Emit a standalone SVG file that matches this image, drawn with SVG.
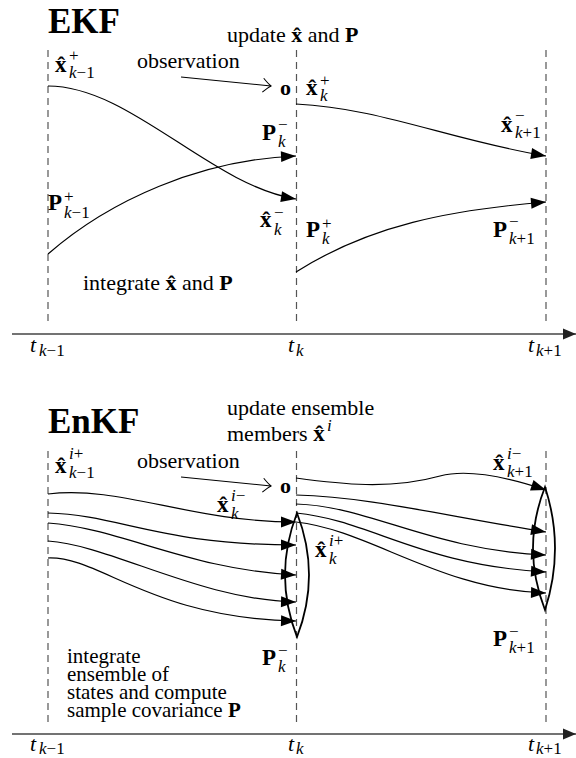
<svg xmlns="http://www.w3.org/2000/svg" width="576" height="758" viewBox="0 0 576 758">
<defs>
<style>
text{font-family:"Liberation Serif","Times New Roman",serif;font-size:22px;fill:#000}
.b{font-weight:bold}
.m{font-weight:bold;font-size:23px}
.i{font-style:italic}
.s{font-size:17px;font-weight:normal}
.sm{font-size:21px}
.title{font-size:35px;font-weight:bold}
.dash{stroke:#555;stroke-width:1.2;stroke-dasharray:7 5;fill:none}
.axis{stroke:#444;stroke-width:1.5;fill:none;marker-end:url(#axah)}
.curve{fill:none;stroke:#000;stroke-width:1.2;marker-end:url(#ah)}
.obs{fill:none;stroke:#000;stroke-width:1.1;marker-end:url(#open)}
.lens{fill:none;stroke:#000;stroke-width:1.8}
</style>
<marker id="ah" markerUnits="userSpaceOnUse" viewBox="-16 -7 17 14" refX="0" refY="0" markerWidth="17" markerHeight="14" orient="auto"><path d="M0,0 L-15,-5.5 L-15,5.5 Z" fill="#000"/></marker>
<marker id="axah" markerUnits="userSpaceOnUse" viewBox="-14 -7 15 14" refX="0" refY="0" markerWidth="15" markerHeight="14" orient="auto"><path d="M0,0 L-13,-5.5 L-13,5.5 Z" fill="#222"/></marker>
<marker id="open" markerUnits="userSpaceOnUse" viewBox="-10 -9 12 18" refX="0" refY="0" markerWidth="12" markerHeight="18" orient="auto"><path d="M-8,-7 Q-3,-2 0,0 Q-3,2 -8,7" fill="none" stroke="#000" stroke-width="1.1"/></marker>
</defs>

<g id="ekf-frame">
<line class="dash" x1="48" y1="50" x2="48" y2="326"/>
<line class="dash" x1="296.5" y1="50" x2="296.5" y2="326"/>
<line class="dash" x1="546" y1="50" x2="546" y2="326"/>
<line class="axis" x1="12" y1="334" x2="576" y2="334"/>
</g>
<g id="enkf-frame">
<line class="dash" x1="48" y1="451" x2="48" y2="727"/>
<line class="dash" x1="296.5" y1="451" x2="296.5" y2="727"/>
<line class="dash" x1="546" y1="451" x2="546" y2="727"/>
<line class="axis" x1="12" y1="734" x2="576" y2="734"/>
</g>

<g id="connectors">
<path class="obs" d="M181,77 L271,86"/>
<path class="curve" d="M48,86 C130,86 210,185 296,199"/>
<path class="curve" d="M48,254 C110,200 200,160 296,156"/>
<path class="curve" d="M296,104 C380,108 450,140 546,156"/>
<path class="curve" d="M296,272 C370,225 450,210 546,202"/>

<path class="obs" d="M181,477 L271,486"/>
<path class="curve" d="M48,494 C120,485 190,522 296,522"/>
<path class="curve" d="M48,513 C120,515 160,545 296,545"/>
<path class="curve" d="M48,523 C120,528 190,570 296,575"/>
<path class="curve" d="M48,541 C110,545 200,600 296,602"/>
<path class="curve" d="M48,558 C100,556 150,618 296,621"/>

<path class="curve" d="M296,478 C340,484 390,490 440,476 C470,468 510,478 546,490"/>
<path class="curve" d="M296,495 C370,497 440,515 546,532"/>
<path class="curve" d="M296,504 C370,506 430,550 546,555"/>
<path class="curve" d="M296,513 C370,520 420,565 546,572"/>
<path class="curve" d="M296,522 C370,530 440,590 546,593"/>

<path class="lens" d="M297,513 Q273,575 297,637 Q321,575 297,513 Z"/>
<path class="lens" d="M545,487 Q521,548 545,610 Q565,548 545,487 Z"/>
</g>

<g id="ekf-title"><text class="title" x="48" y="33">EKF</text></g>
<g id="ekf-update"><text x="227" y="42">update <tspan class="b">x̂</tspan> and <tspan class="b">P</tspan></text></g>
<g id="ekf-observation"><text x="137" y="68">observation</text></g>
<g id="ekf-o"><text class="b" x="280" y="95">o</text></g>
<g id="ekf-xkm1p"><text class="m" x="55" y="72">x̂<tspan class="s" x="69" y="61">+</tspan><tspan class="s" x="69" y="78"><tspan class="i">k</tspan>−1</tspan></text></g>
<g id="ekf-xkp"><text class="m" x="306" y="95">x̂<tspan class="s" x="320" y="86">+</tspan><tspan class="s i" x="320" y="101">k</tspan></text></g>
<g id="ekf-Pkm"><text class="m" x="262" y="140">P<tspan class="s" x="278" y="130">−</tspan><tspan class="s i" x="278" y="147">k</tspan></text></g>
<g id="ekf-xk1m"><text class="m" x="501" y="132">x̂<tspan class="s" x="515" y="121">−</tspan><tspan class="s" x="515" y="138"><tspan class="i">k</tspan>+1</tspan></text></g>
<g id="ekf-Pkm1p"><text class="m" x="48" y="210">P<tspan class="s" x="64" y="202">+</tspan><tspan class="s" x="64" y="218"><tspan class="i">k</tspan>−1</tspan></text></g>
<g id="ekf-xkm"><text class="m" x="260" y="227">x̂<tspan class="s" x="274" y="218">−</tspan><tspan class="s i" x="274" y="235">k</tspan></text></g>
<g id="ekf-Pkp"><text class="m" x="306" y="237">P<tspan class="s" x="322" y="229">+</tspan><tspan class="s i" x="322" y="244">k</tspan></text></g>
<g id="ekf-Pk1m"><text class="m" x="493" y="237">P<tspan class="s" x="509" y="227">−</tspan><tspan class="s" x="509" y="244"><tspan class="i">k</tspan>+1</tspan></text></g>
<g id="ekf-integrate"><text x="83" y="290">integrate <tspan class="b">x̂</tspan> and <tspan class="b">P</tspan></text></g>
<g id="ekf-t">
<text class="i" x="30" y="352">t<tspan class="s" x="39" y="356">k<tspan font-style="normal">−1</tspan></tspan></text>
<text class="i" x="288" y="352">t<tspan class="s" x="296" y="356">k</tspan></text>
<text class="i" x="528" y="352">t<tspan class="s" x="536" y="356">k<tspan font-style="normal">+1</tspan></tspan></text>
</g>

<g id="enkf-title"><text class="title" x="48" y="433">EnKF</text></g>
<g id="enkf-update"><text x="227" y="415">update ensemble<tspan x="227" y="441">members </tspan><tspan class="m">x̂</tspan><tspan class="s i" x="327" y="431">i</tspan></text></g>
<g id="enkf-observation"><text x="137" y="468">observation</text></g>
<g id="enkf-o"><text class="b" x="280" y="493">o</text></g>
<g id="enkf-xkm1p"><text class="m" x="55" y="473">x̂<tspan class="s" x="69" y="459"><tspan class="i">i</tspan>+</tspan><tspan class="s" x="69" y="478"><tspan class="i">k</tspan>−1</tspan></text></g>
<g id="enkf-xkm"><text class="m" x="217" y="512">x̂<tspan class="s" x="231" y="501"><tspan class="i">i</tspan>−</tspan><tspan class="s i" x="231" y="519">k</tspan></text></g>
<g id="enkf-xkp"><text class="m" x="315" y="557">x̂<tspan class="s" x="329" y="546"><tspan class="i">i</tspan>+</tspan><tspan class="s i" x="329" y="564">k</tspan></text></g>
<g id="enkf-xk1m"><text class="m" x="493" y="470">x̂<tspan class="s" x="507" y="459"><tspan class="i">i</tspan>−</tspan><tspan class="s" x="507" y="477"><tspan class="i">k</tspan>+1</tspan></text></g>
<g id="enkf-Pkm"><text class="m" x="262" y="665">P<tspan class="s" x="278" y="656">−</tspan><tspan class="s i" x="278" y="672">k</tspan></text></g>
<g id="enkf-Pk1m"><text class="m" x="493" y="646">P<tspan class="s" x="509" y="637">−</tspan><tspan class="s" x="509" y="653"><tspan class="i">k</tspan>+1</tspan></text></g>
<g id="enkf-integrate"><text class="sm" x="67" y="663">integrate<tspan x="67" y="681">ensemble of</tspan><tspan x="67" y="699">states and compute</tspan><tspan x="67" y="717">sample covariance <tspan class="b">P</tspan></tspan></text></g>
<g id="enkf-t">
<text class="i" x="30" y="751">t<tspan class="s" x="39" y="754">k<tspan font-style="normal">−1</tspan></tspan></text>
<text class="i" x="288" y="751">t<tspan class="s" x="296" y="754">k</tspan></text>
<text class="i" x="528" y="751">t<tspan class="s" x="536" y="754">k<tspan font-style="normal">+1</tspan></tspan></text>
</g>
</svg>
